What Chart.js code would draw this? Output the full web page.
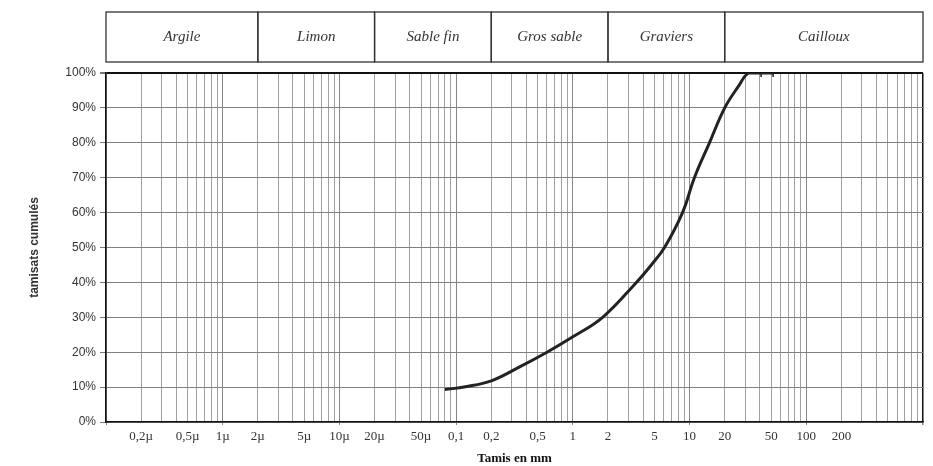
<!DOCTYPE html>
<html>
<head>
<meta charset="utf-8">
<script src="https://cdn.jsdelivr.net/npm/chart.js@4"></script>
<style>
  html, body { margin: 0; padding: 0; background: #fff; }
  #wrap { width: 933px; height: 466px; }
</style>
</head>
<body>
<div id="wrap"><canvas id="chart" width="933" height="466"></canvas></div>
<script>
// granulometric curve: sieve size (mm) vs cumulative passing (%)
const sieveSizes = [0.08, 0.12, 0.2, 0.35, 0.6, 1, 1.8, 3.5, 4.7, 6.1, 8.7, 11, 14.8, 20, 26, 32, 41, 52];
const passing    = [9.3, 10.1, 11.8, 15.8, 20, 24.4, 30, 40, 45, 50, 60, 70, 80, 90, 96, 100, 100, 100];

// soil classes along the top band (bounds in mm)
const classNames  = ['Argile', 'Limon', 'Sable fin', 'Gros sable', 'Graviers', 'Cailloux'];
const classBounds = [0.0001, 0.002, 0.02, 0.2, 2, 20, 1000];

// labelled x ticks (mm) and their text
const tickValues = [0.0002, 0.0005, 0.001, 0.002, 0.005, 0.01, 0.02, 0.05, 0.1, 0.2, 0.5, 1, 2, 5, 10, 20, 50, 100, 200];
const tickLabels = ['0,2µ', '0,5µ', '1µ', '2µ', '5µ', '10µ', '20µ', '50µ', '0,1', '0,2', '0,5', '1', '2', '5', '10', '20', '50', '100', '200'];

// log paper grid: 1..9 in every decade
const gridValues = [];
for (let e = -4; e <= 2; e++) {
  for (let m = 1; m <= 9; m++) gridValues.push(Number((m * Math.pow(10, e)).toPrecision(10)));
}
gridValues.push(1000);

const sameVal = (a, b) => Math.abs(Math.log10(a) - Math.log10(b)) < 1e-6;
const isDecade = v => sameVal(v, Math.pow(10, Math.round(Math.log10(v))));

const classBand = {
  id: 'classBand',
  afterDraw(chart) {
    const ctx = chart.ctx;
    const xs = chart.scales.x;
    const top = 12, bottom = 62;
    ctx.save();
    ctx.strokeStyle = '#333';
    ctx.lineWidth = 1.3;
    ctx.fillStyle = '#333';
    ctx.font = 'italic 15px "Liberation Serif", serif';
    ctx.textAlign = 'center';
    ctx.textBaseline = 'middle';
    for (let i = 0; i < classNames.length; i++) {
      const x0 = xs.getPixelForValue(classBounds[i]);
      const x1 = xs.getPixelForValue(classBounds[i + 1]);
      ctx.strokeRect(x0, top, x1 - x0, bottom - top);
      ctx.fillText(classNames[i], (x0 + x1) / 2, (top + bottom) / 2);
    }
    ctx.restore();
  }
};

new Chart(document.getElementById('chart'), {
  type: 'line',
  data: {
    datasets: [{
      data: sieveSizes.map((s, i) => ({ x: s, y: passing[i] })),
      borderColor: '#222',
      borderWidth: 3,
      tension: 0.4,
      pointStyle: 'line',
      rotation: 90,
      pointRadius: c => c.dataIndex >= sieveSizes.length - 2 ? 4 : 0,
      pointBorderColor: '#222',
      pointBorderWidth: 1.5,
      fill: false
    }]
  },
  options: {
    responsive: false,
    animation: false,
    layout: { padding: { top: 73, right: 10, left: 0, bottom: 0 } },
    plugins: { legend: { display: false }, tooltip: { enabled: false } },
    scales: {
      x: {
        type: 'logarithmic',
        min: 0.0001,
        max: 1000,
        afterBuildTicks: s => { s.ticks = gridValues.map(v => ({ value: v })); },
        afterFit: s => { s.height = 44; },
        grid: {
          color: c => c.tick && sameVal(c.tick.value, 1000) ? '#111' : (c.tick && isDecade(c.tick.value) ? '#888' : '#a0a0a0'),
          lineWidth: c => c.tick && sameVal(c.tick.value, 1000) ? 1.5 : 1,
          tickLength: 3,
          tickColor: c => c.tick && isDecade(c.tick.value) ? '#888' : 'rgba(0,0,0,0)'
        },
        border: { color: '#111', width: 1.5 },
        ticks: {
          autoSkip: false,
          maxRotation: 0,
          padding: 4,
          color: '#333',
          font: { family: '"Liberation Serif", serif', size: 13 },
          callback: v => {
            const i = tickValues.findIndex(t => sameVal(t, v));
            return i >= 0 ? tickLabels[i] : '';
          }
        },
        title: {
          display: true,
          text: 'Tamis en mm',
          color: '#111',
          font: { family: '"Liberation Serif", serif', size: 13, weight: 'bold' },
          padding: { top: 0, bottom: 0 }
        }
      },
      y: {
        min: 0,
        max: 100,
        afterFit: s => { s.width = 106; },
        grid: {
          color: c => c.tick && c.tick.value === 100 ? '#111' : '#808080',
          lineWidth: c => c.tick && c.tick.value === 100 ? 2 : 1,
          tickLength: 6,
          tickColor: '#777'
        },
        border: { color: '#111', width: 1.5 },
        ticks: {
          stepSize: 10,
          padding: 4,
          color: '#333',
          font: { family: '"Liberation Sans", Arial, sans-serif', size: 12 },
          callback: v => v + '%'
        },
        title: {
          display: true,
          text: 'tamisats cumulés',
          color: '#333',
          font: { family: '"Liberation Sans", Arial, sans-serif', size: 12, weight: 'bold' },
          padding: { top: 27 }
        }
      }
    }
  },
  plugins: [classBand]
});
</script>
</body>
</html>
